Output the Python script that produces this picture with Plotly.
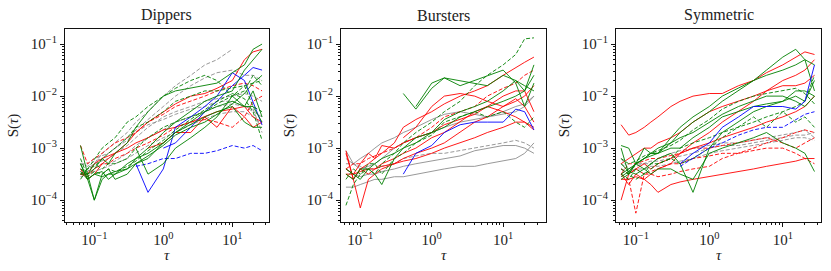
import plotly.graph_objects as go

# time lags (tau)
TAU = [0.063, 0.08, 0.1, 0.13, 0.16, 0.2, 0.3, 0.4, 0.6, 1.0, 1.5, 2.5, 4, 6, 10, 15, 20, 27]
N = None
PANEL_TITLES = ["Dippers", "Bursters", "Symmetric"]
X_TICKS = [0.1, 1, 10]
X_TICKTEXT = ["10<sup>−1</sup>", "10<sup>0</sup>", "10<sup>1</sup>"]
Y_TICKS = [1e-4, 1e-3, 1e-2, 1e-1]
Y_TICKTEXT = ["10<sup>−4</sup>", "10<sup>−3</sup>", "10<sup>−2</sup>", "10<sup>−1</sup>"]

# ---- log10 S(tau) values, Dippers ----
dip_g1 = [-2.95, -3.5, -3.4, -3.2, -3.3, -3.1, -2.9, -2.6, -2.3, -2.0, -1.9, -1.85, -1.8, -1.75, -1.55, -1.4, -1.1, -1.0]
dip_g2 = [-3.3, -3.6, -3.5, -3.45, -3.6, -3.5, -3.4, -3.2, -3.0, -2.7, -2.5, -2.3, -2.1, -2.0, -1.9, -1.5, -1.3, -1.1]
dip_g3 = [-3.5, -3.5, -4.0, -3.6, -3.5, -3.5, -3.3, -3.2, -3.1, -2.9, -2.7, -2.5, -2.3, -2.2, -2.1, -2.2, -1.9, -2.4]
dip_g4 = [N, N, N, N, N, N, N, -3.0, -3.5, -3.3, -3.0, -2.8, -2.6, -2.4, -2.0, -2.2, -2.2, -2.5]
dip_g5 = [-3.6, -3.4, -3.2, -3.0, -2.9, -2.8, -2.5, -2.4, -2.2, -2.0, -1.85, -1.7, -1.6, -1.7, -2.0, -1.9, -1.6, -1.8]
dip_g6 = [-3.4, -3.5, -3.3, -3.4, -3.3, -3.3, -3.2, -3.0, -2.8, -2.6, -2.5, -2.4, -2.3, -2.15, -2.0, -1.8, -2.2, -2.3]
dip_g7 = [-3.3, -3.6, -4.0, -3.5, -3.4, -3.6, -3.5, -3.3, -3.2, -2.9, -2.7, -2.55, -2.4, -2.3, -2.2, -2.5, -2.6, -2.6]
dip_g8 = [-3.5, -3.4, -3.35, -3.2, -3.1, -3.0, -2.8, -2.6, -2.5, -2.3, -2.1, -2.0, -1.9, -1.9, -1.85, -1.8, -1.75, -1.7]
dip_g9 = [-3.2, -3.55, -3.45, -3.5, -3.4, -3.45, -3.35, -3.25, -3.05, -2.85, -2.65, -2.45, -2.25, -2.1, -1.95, -2.05, -2.3, -2.85]
dip_g10 = [-3.45, -3.6, -3.5, -3.55, -3.5, -3.45, -3.4, -3.3, -3.15, -2.95, -2.75, -2.6, -2.5, -2.35, -2.15, -1.95, -1.75, -1.6]
dip_r1 = [-3.4, -3.6, -3.5, -3.3, -3.2, -3.1, -2.9, -2.7, -2.5, -2.3, -2.15, -2.0, -1.95, -1.85, -1.7, -1.3, -1.15, -1.1]
dip_r2 = [-3.5, -3.5, -3.3, -3.2, -3.15, -3.1, -3.0, -2.9, -2.8, -2.65, -2.6, -2.5, -2.4, -2.3, -2.25, -2.2, -2.4, -2.5]
dip_r3 = [N, N, N, N, N, N, N, N, -3.0, -2.9, -2.7, -2.7, -2.4, -2.6, -2.2, -2.4, -2.6, -2.5]
dip_r4 = [-2.95, -3.3, -3.2, -3.1, -3.0, -2.9, -2.8, -2.7, -2.5, -2.35, -2.2, -2.1, -2.0, -1.9, -1.8, -1.75, -1.8, -1.9]
dip_r5 = [-3.5, -3.55, -3.4, -3.3, -3.3, -3.2, -3.1, -3.0, -2.9, -2.75, -2.6, -2.5, -2.45, -2.5, -2.6, -2.4, -2.1, -2.0]
dip_b1 = [N, N, N, N, N, N, N, -3.3, -3.85, -3.4, -2.6, -2.4, -2.2, -2.0, -1.55, -1.7, -2.1, -2.55]
dip_b2 = [N, N, N, N, N, N, N, N, N, -3.0, -2.9, -2.6, -2.3, -2.1, -1.8, -1.6, -1.45, -1.5]
dip_b3 = [N, N, N, N, N, N, N, -3.35, -3.3, -3.2, -3.2, -3.1, -3.1, -3.05, -2.95, -3.0, -2.95, -3.05]
dip_k1 = [-3.5, -3.4, -3.3, -3.1, -3.0, -2.9, -2.7, -2.5, -2.3, -2.0, -1.8, -1.6, -1.4, -1.3, -1.1, N, N, N]
dip_k2 = [-3.4, -3.45, -3.3, -3.25, -3.2, -3.1, -2.95, -2.8, -2.6, -2.4, -2.3, -2.2, -2.1, -2.05, -2.0, -1.95, -2.0, -2.1]
dip_k3 = [-3.3, -3.3, -3.2, -3.15, -3.1, -3.0, -2.85, -2.7, -2.55, -2.45, -2.35, -2.25, -2.2, -2.1, -2.1, -2.2, -2.3, -2.4]
dip_k4 = [-3.45, -3.5, -3.4, -3.3, -3.3, -3.25, -3.1, -2.95, -2.8, -2.65, -2.5, -2.4, -2.3, -2.2, -2.15, -2.2, -2.25, -2.7]
dip_k5 = [-3.3, -3.35, -3.25, -3.2, -3.1, -3.0, -2.8, -2.65, -2.45, -2.2, -2.0, -1.8, -1.65, -1.55, -1.5, -1.6, -1.6, -1.7]
dip_k6 = [-3.55, -3.5, -3.45, -3.4, -3.35, -3.3, -3.2, -3.1, -2.95, -2.8, -2.7, -2.55, -2.45, -2.35, -2.3, -2.3, -2.4, -2.55]

# ---- Bursters ----
bur_k1 = [-3.05, -3.3, -3.2, -3.1, -3.0, -2.9, -2.8, -2.7, -2.6, -2.45, -2.35, -2.3, -2.35, -2.4, -2.3, -2.2, -2.15, -2.0]
bur_k2 = [-3.75, -3.75, -3.7, -3.65, -3.6, -3.6, -3.55, -3.55, -3.5, -3.45, -3.4, -3.35, -3.35, -3.3, -3.25, -3.2, -3.1, -2.9]
bur_k3 = [-3.4, -3.5, -3.55, -3.5, -3.5, -3.45, -3.4, -3.35, -3.3, -3.25, -3.2, -3.15, -3.05, -3.0, -2.95, -2.95, -3.0, -3.1]
bur_k4 = [-3.3, -3.3, -3.35, -3.4, -3.4, -3.35, -3.3, -3.2, -3.15, -3.1, -3.1, -3.05, -3.0, -2.95, -2.9, -2.85, -2.9, -3.0]
bur_k5 = [-3.2, -3.3, -3.4, -3.35, -3.3, -3.2, -3.0, -2.9, -2.8, -2.7, -2.6, -2.5, -2.45, -2.4, -2.35, -2.3, -2.2, -2.0]
bur_r1 = [-3.05, -3.6, -3.4, -3.3, -3.2, -3.1, -2.9, -2.6, -2.45, -2.3, -2.15, -2.0, -1.9, -1.8, -1.6, -1.45, -1.35, -1.25]
bur_r2 = [-3.1, -3.6, -4.15, -3.6, -3.5, -3.4, -3.3, -3.2, -3.1, -3.0, -2.9, -2.7, -2.5, -2.4, -2.2, -2.1, -2.0, -1.8]
bur_r3 = [-3.5, -3.6, -3.4, -3.5, -3.4, -3.3, -3.2, -3.1, -3.0, -2.8, -2.7, -2.5, -2.3, -2.2, -2.0, -1.9, -1.9, -2.3]
bur_r4 = [-3.4, -3.5, -3.3, -3.1, -3.2, -2.95, -3.0, -2.9, -2.8, -2.7, -2.55, -2.45, -2.35, -2.2, -2.3, -2.4, -2.5, -2.65]
bur_r5 = [N, N, N, N, N, N, N, -2.8, -2.6, -2.2, -2.0, -1.95, -2.0, -2.1, -2.2, -2.05, -2.2, -2.5]
bur_r6 = [-3.5, -3.5, -3.45, -3.4, -3.4, -3.35, -3.3, -3.25, -3.2, -3.1, -3.0, -2.9, -2.8, -2.7, -2.6, -2.5, -2.5, -2.6]
bur_r7 = [-3.4, -3.3, -3.3, -3.2, -3.15, -3.1, -3.0, -2.9, -2.8, -2.6, -2.4, -2.3, -2.2, -2.0, -1.85, -1.75, -1.6, -1.5]
bur_g1 = [N, N, N, N, N, N, N, -1.95, -2.25, -1.85, -1.65, -1.8, -1.7, -1.6, -1.5, -1.75, -2.2, -1.75]
bur_g2 = [N, N, N, N, N, N, N, N, -2.2, -1.75, -1.65, -1.7, -1.75, -1.8, -1.6, -1.7, -1.9, -1.6]
bur_g3 = [-4.1, -3.7, -3.5, -3.4, -3.5, -3.3, -3.1, -2.9, -2.7, -2.5, -2.3, -2.1, -1.8, -1.6, -1.4, -1.2, -0.9, -0.88]
bur_g4 = [-3.4, -3.5, -3.6, -3.4, -3.5, -3.7, -3.2, -3.0, -2.9, -2.7, -2.6, -2.4, -2.3, -2.2, -2.1, -2.0, -1.9, -1.4]
bur_g5 = [-3.6, -3.4, -3.5, -3.3, -3.3, -3.5, -3.2, -3.1, -2.9, -2.75, -2.5, -2.4, -2.3, -2.4, -2.3, -2.5, -2.6, -2.4]
bur_g6 = [-3.5, -3.6, -3.4, -3.4, -3.3, -3.2, -3.1, -3.0, -2.8, -2.7, -2.45, -2.3, -2.2, -2.1, -1.9, -1.7, -1.8, -1.9]
bur_b1 = [N, N, N, N, N, N, N, -3.5, -3.1, -2.95, -2.7, -2.55, -2.5, -2.5, -2.5, -2.25, -2.3, -2.65]

# ---- Symmetric ----
sym_r1 = [-2.55, -2.75, -2.7, -2.6, -2.5, -2.4, -2.2, -2.1, -2.0, -1.95, -1.95, -1.8, -1.7, -1.55, -1.4, -1.25, -1.15, -1.2]
sym_r2 = [-3.5, -3.7, -3.5, -3.6, -3.5, -3.4, -3.3, -3.1, -2.9, -2.7, -2.5, -2.3, -2.1, -1.9, -1.7, -1.6, -1.5, -1.3]
sym_r3 = [-3.6, -3.6, -3.55, -3.6, -3.7, -3.85, -3.7, -3.65, -3.6, -3.55, -3.5, -3.45, -3.4, -3.35, -3.3, -3.25, -3.2, -3.2]
sym_r4 = [-4.0, -3.5, -3.4, -3.3, -3.4, -3.3, -3.2, -3.1, -3.0, -2.9, -2.8, -2.7, -2.6, -2.5, -2.4, -2.3, -2.2, -2.0]
sym_r5 = [-3.5, -3.6, -4.25, -3.5, -3.5, -3.55, -3.5, -3.45, -3.4, -3.35, -3.2, -3.1, -3.0, -2.9, -2.8, -2.7, -2.65, -2.7]
sym_r6 = [-3.4, -3.5, -3.4, -3.5, -3.45, -3.4, -3.3, -3.3, -3.2, -3.15, -3.1, -3.1, -3.05, -3.0, -3.0, -3.1, -3.2, -3.3]
sym_r7 = [-3.3, -3.2, -3.1, -3.0, -3.0, -2.9, -2.8, -2.7, -2.5, -2.3, -2.2, -2.1, -2.0, -1.9, -1.8, -1.8, -1.75, -1.6]
sym_r8 = [-3.5, -3.3, -3.3, -3.25, -3.2, -3.2, -3.15, -3.1, -3.0, -3.0, -2.95, -2.9, -2.85, -2.8, -2.9, -3.0, -2.9, -2.8]
sym_g1 = [-3.5, -3.4, -3.3, -3.2, -3.15, -3.1, -2.9, -2.7, -2.5, -2.3, -2.1, -1.9, -1.7, -1.5, -1.25, -1.1, -1.3, -1.9]
sym_g2 = [-2.95, -3.0, -3.3, -3.2, -3.1, -3.1, -2.8, -2.6, -2.4, -2.2, -2.0, -1.85, -1.7, -1.6, -1.5, -1.4, -1.3, -1.4]
sym_g3 = [-3.0, -3.5, -3.3, -3.2, -3.1, -3.1, -3.0, -3.0, -2.8, -2.6, -2.4, -2.3, -2.2, -2.15, -2.1, -2.0, -2.1, -1.7]
sym_g4 = [-3.5, -3.6, -3.4, -3.5, -3.3, -3.3, -3.2, -3.3, -3.2, -3.0, -2.8, -2.6, -2.4, -2.6, -2.3, -2.5, -2.4, -2.6]
sym_g5 = [-3.3, -3.45, -3.5, -3.4, -3.5, -3.4, -3.4, -3.5, -3.6, -3.1, -3.0, -2.9, -2.8, -2.7, -2.9, -3.0, -3.1, -3.45]
sym_g6 = [-3.6, -3.5, -3.3, -3.4, -3.3, -3.2, -3.1, -3.3, -3.85, -3.0, -2.7, -2.5, -2.3, -2.2, -2.1, -1.9, -1.9, -2.0]
sym_g7 = [-3.4, -3.5, -3.6, -3.5, -3.4, -3.3, -3.2, -3.0, -2.9, -2.8, -2.7, -2.6, -2.5, -2.4, -2.3, -2.2, -2.1, -1.6]
sym_g8 = [-3.55, -3.45, -3.3, -3.0, -3.1, -3.0, -2.9, -2.8, -2.7, -2.5, -2.35, -2.2, -2.1, -2.0, -2.0, -2.1, -2.2, -2.0]
sym_g9 = [-3.2, -3.3, -3.25, -3.15, -3.1, -3.05, -2.95, -2.85, -2.65, -2.45, -2.25, -2.1, -2.0, -1.95, -1.9, -1.85, -1.95, -2.15]
sym_k1 = [-3.3, -3.4, -3.35, -3.3, -3.25, -3.25, -3.2, -3.15, -3.1, -3.0, -2.95, -2.95, -2.9, -2.85, -2.8, -2.75, -2.75, -2.7]
sym_k2 = [-3.2, -3.4, -3.3, -3.3, -3.3, -3.2, -3.1, -3.05, -3.0, -2.95, -2.9, -2.9, -2.85, -2.8, -2.75, -2.7, -2.65, -2.8]
sym_k3 = [-3.4, -3.45, -3.4, -3.4, -3.35, -3.35, -3.3, -3.25, -3.2, -3.1, -3.05, -3.0, -2.95, -2.9, -2.85, -2.8, -2.8, -2.85]
sym_b1 = [N, N, N, N, N, N, N, -3.3, -3.1, -2.9, -2.6, -2.4, -2.2, -2.2, -2.2, -2.25, -2.1, -1.4]
sym_b2 = [N, N, N, N, N, N, N, -3.35, -3.2, -3.0, -2.9, -2.75, -2.65, -2.6, -2.6, -2.45, -2.35, -2.3]

GREEN = "#008000"
RED = "#ff0000"
BLUE = "#0000ff"
GRAY = "#8c8c8c"

# (panel, values, color, dashed)
SERIES = [
    (0, dip_k1, GRAY, True), (0, dip_k2, GRAY, True), (0, dip_k3, GRAY, True),
    (0, dip_k4, GRAY, True), (0, dip_k5, GRAY, True), (0, dip_k6, GRAY, True),
    (0, dip_r1, RED, False), (0, dip_r2, RED, False), (0, dip_r3, RED, False),
    (0, dip_r4, RED, True), (0, dip_r5, RED, True),
    (0, dip_b1, BLUE, False), (0, dip_b2, BLUE, False), (0, dip_b3, BLUE, True),
    (0, dip_g1, GREEN, False), (0, dip_g2, GREEN, False), (0, dip_g3, GREEN, False),
    (0, dip_g4, GREEN, False), (0, dip_g5, GREEN, True), (0, dip_g6, GREEN, True),
    (0, dip_g7, GREEN, False), (0, dip_g8, GREEN, True), (0, dip_g9, GREEN, True),
    (0, dip_g10, GREEN, False),
    (1, bur_k1, GRAY, False), (1, bur_k2, GRAY, False), (1, bur_k3, GRAY, False),
    (1, bur_k4, GRAY, True), (1, bur_k5, GRAY, False),
    (1, bur_r1, RED, False), (1, bur_r2, RED, False), (1, bur_r3, RED, False),
    (1, bur_r4, RED, False), (1, bur_r5, RED, False), (1, bur_r6, RED, False),
    (1, bur_r7, RED, True),
    (1, bur_g1, GREEN, False), (1, bur_g2, GREEN, False), (1, bur_g3, GREEN, True),
    (1, bur_g4, GREEN, False), (1, bur_g5, GREEN, True), (1, bur_g6, GREEN, False),
    (1, bur_b1, BLUE, False),
    (2, sym_k1, GRAY, True), (2, sym_k2, GRAY, True), (2, sym_k3, GRAY, True),
    (2, sym_r1, RED, False), (2, sym_r2, RED, False), (2, sym_r3, RED, False),
    (2, sym_r4, RED, False), (2, sym_r5, RED, True), (2, sym_r6, RED, True),
    (2, sym_r7, RED, False), (2, sym_r8, RED, True),
    (2, sym_g1, GREEN, False), (2, sym_g2, GREEN, False), (2, sym_g3, GREEN, False),
    (2, sym_g4, GREEN, True), (2, sym_g5, GREEN, False), (2, sym_g6, GREEN, False),
    (2, sym_g7, GREEN, True), (2, sym_g8, GREEN, False), (2, sym_g9, GREEN, True),
    (2, sym_b1, BLUE, False), (2, sym_b2, BLUE, True),
]

FONT = "Liberation Serif"
TXT = "#222222"
fig = go.Figure()
for panel, vals, color, dashed in SERIES:
    xs = [t for t, v in zip(TAU, vals) if v is not None]
    ys = [10 ** v for v in vals if v is not None]
    sfx = "" if panel == 0 else str(panel + 1)
    fig.add_trace(go.Scatter(
        x=xs, y=ys, mode="lines", xaxis="x" + sfx, yaxis="y" + sfx,
        line=dict(color=color, width=0.9, dash="4px,2px" if dashed else "solid"),
        showlegend=False, hoverinfo="skip"))

X_DOMAINS = [[65 / 831, 269 / 831], [341 / 831, 546 / 831], [616 / 831, 821 / 831]]
X_RANGES = [[-1.425, 1.532], [-1.27, 1.6], [-1.27, 1.52]]
Y_DOMAIN = [1 - 222 / 271, 1 - 29 / 271]
X_MINOR = [m * 10.0 ** e for e in (-2, -1, 0, 1) for m in range(2, 10)]
Y_MINOR = [m * 10.0 ** e for e in (-5, -4, -3, -2, -1) for m in range(2, 10)]

layout = dict(
    width=831, height=271, margin=dict(l=0, r=0, t=0, b=0),
    paper_bgcolor="white", plot_bgcolor="white",
    font=dict(family=FONT, size=15, color=TXT),
)
annotations = []
for i in range(3):
    sfx = "" if i == 0 else str(i + 1)
    common = dict(type="log", showgrid=False, zeroline=False, showline=True,
                  linecolor="#111", linewidth=1, mirror=True,
                  ticks="outside", ticklen=4, tickwidth=0.8, tickcolor="#111",
                  tickmode="array",
                  tickfont=dict(family=FONT, size=15, color=TXT))
    layout["xaxis" + sfx] = dict(common, domain=X_DOMAINS[i], range=X_RANGES[i],
                                 anchor="y" + sfx, tickvals=X_TICKS, ticktext=X_TICKTEXT,
                                 minor=dict(tickmode="array", tickvals=X_MINOR, ticks="outside",
                                            ticklen=2, tickwidth=0.6, tickcolor="#111",
                                            showgrid=False))
    layout["yaxis" + sfx] = dict(common, domain=Y_DOMAIN, range=[-4.42, -0.71],
                                 anchor="x" + sfx, tickvals=Y_TICKS, ticktext=Y_TICKTEXT,
                                 minor=dict(tickmode="array", tickvals=Y_MINOR, ticks="outside",
                                            ticklen=2, tickwidth=0.6, tickcolor="#111",
                                            showgrid=False),
                                 title=dict(text="S(<i>τ</i>)", standoff=8,
                                            font=dict(family=FONT, size=15, color=TXT)))
    annotations.append(dict(text=PANEL_TITLES[i], x=sum(X_DOMAINS[i]) / 2, y=1 - 15 / 271,
                            xref="paper", yref="paper", showarrow=False,
                            xanchor="center", yanchor="middle",
                            font=dict(family=FONT, size=16, color=TXT)))
    annotations.append(dict(text="<i>τ</i>", x=sum(X_DOMAINS[i]) / 2, y=1 - 255 / 271,
                            xref="paper", yref="paper", showarrow=False,
                            xanchor="center", yanchor="middle",
                            font=dict(family=FONT, size=15, color=TXT)))
layout["annotations"] = annotations
fig.update_layout(**layout)
fig.write_html("out.html", config={"displayModeBar": False},
               post_script="document.body.style.margin='0';document.body.style.overflow='hidden';")
